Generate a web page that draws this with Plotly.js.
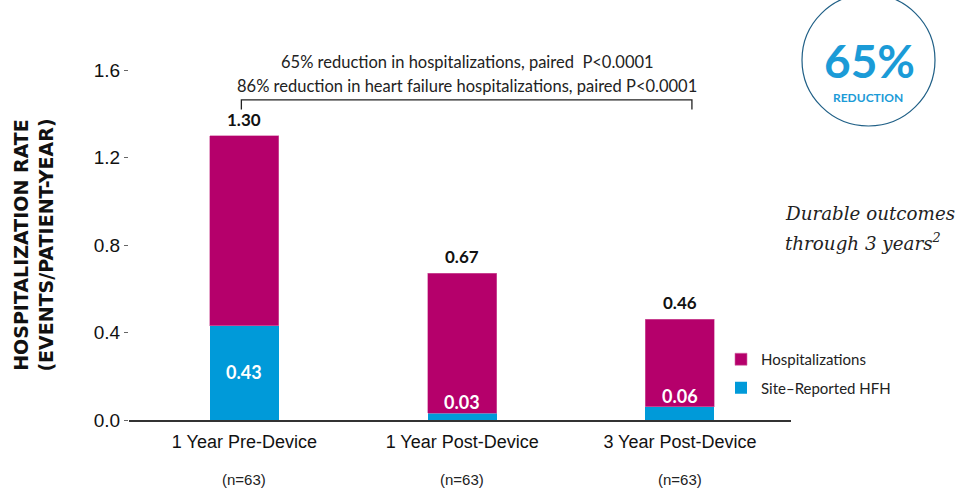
<!DOCTYPE html>
<html>
<head>
<meta charset="utf-8">
<script src="https://cdn.plot.ly/plotly-3.0.1.min.js"></script>
<style>html,body{margin:0;padding:0;background:#fff;}#chart{width:960px;height:492px;}</style>
</head>
<body>
<div id="chart"></div>
<script>
// ---- data ----
const categories = ["1 Year Pre-Device", "1 Year Post-Device", "3 Year Post-Device"];
const sampleLabels = ["(n=63)", "(n=63)", "(n=63)"];
const totalHospitalizations = [1.30, 0.67, 0.46];
const siteReportedHFH = [0.43, 0.03, 0.06];
const yTickVals = [0, 0.4, 0.8, 1.2, 1.6];
const yTickText = ["0.0", "0.4", "0.8", "1.2", "1.6"];
const seriesNames = ["Hospitalizations", "Site\u2013Reported HFH"];
const pvalueLines = [
  "65% reduction in hospitalizations, paired  P&lt;0.0001",
  "86% reduction in heart failure hospitalizations, paired P&lt;0.0001"
];
const noteLines = ["Durable outcomes", "through 3 years<sup>2</sup>"];

const purple = "#B5006B";
const blue = "#009AD9";
const barWidth = 0.317;

const otherHosp = totalHospitalizations.map((t, i) => +(t - siteReportedHFH[i]).toFixed(2));

// pixel helpers for paper-positioned decorations
const PL = 129, PR = 791, PT = 70, PB = 420;
const px = v => (v - PL) / (PR - PL);
const py = v => (PB - v) / (PB - PT);

const traces = [
  {
    type: "bar", x: categories, y: siteReportedHFH, name: seriesNames[1], legendgroup: "b", legendrank: 2,
    marker: {color: blue}, width: barWidth, hoverinfo: "none"
  },
  {
    type: "bar", x: categories, y: otherHosp, name: seriesNames[0], legendgroup: "a", legendrank: 1,
    marker: {color: purple, line: {color: "#d46aa6", width: 0.6}}, width: barWidth, hoverinfo: "none"
  }
];

const annotations = [];
categories.forEach((c, i) => {
  annotations.push({
    x: c, y: totalHospitalizations[i], xref: "x", yref: "y", yanchor: "bottom", yshift: 4,
    text: "<b>" + totalHospitalizations[i].toFixed(2) + "</b>", showarrow: false,
    font: {family: "Lato, sans-serif", size: 17, color: "#111"}
  });
  const big = siteReportedHFH[i] > 0.2;
  annotations.push({
    x: c, y: big ? siteReportedHFH[i] / 2 : siteReportedHFH[i],
    xref: "x", yref: "y", yanchor: big ? "middle" : "bottom", yshift: big ? 1 : -2,
    text: "<b>" + siteReportedHFH[i].toFixed(2) + "</b>", showarrow: false,
    font: {family: "Lato, sans-serif", size: 18, color: "#fff"}
  });
  annotations.push({
    x: c, y: py(479), xref: "x", yref: "paper", yanchor: "middle",
    text: sampleLabels[i], showarrow: false,
    font: {family: "Liberation Sans, Arial, sans-serif", size: 15, color: "#222"}
  });
});
pvalueLines.forEach((t, i) => {
  annotations.push({
    x: px(467), y: py(62 + 24 * i), xref: "paper", yref: "paper", xanchor: "center", yanchor: "middle",
    text: t, showarrow: false,
    font: {family: "Lato, sans-serif", size: 16.5, color: "#222"}
  });
});
annotations.push({
  x: px(869), y: py(61), xref: "paper", yref: "paper",
  xanchor: "center", yanchor: "middle", showarrow: false,
  text: "<b>65%</b>", font: {family: "Lato, sans-serif", size: 46, color: "#1B9BD7"}
});
annotations.push({
  x: px(868), y: py(97), xref: "paper", yref: "paper",
  xanchor: "center", yanchor: "middle", showarrow: false,
  text: "<b>REDUCTION</b>", font: {family: "Lato, sans-serif", size: 12, color: "#1B9BD7"}
});
noteLines.forEach((t, i) => {
  annotations.push({
    x: px(783), y: py(213 + 29 * i), xref: "paper", yref: "paper",
    xanchor: "left", yanchor: "middle", showarrow: false, align: "left",
    text: "<i>" + t + "</i>",
    font: {family: "DejaVu Serif, serif", size: 18.3, color: "#222"}
  });
});

const layout = {
  width: 960, height: 492,
  margin: {l: PL, r: 960 - PR, t: PT, b: 492 - PB},
  paper_bgcolor: "#fff", plot_bgcolor: "#fff",
  barmode: "stack",
  showlegend: true,
  legend: {
    x: px(721), y: py(343), xanchor: "left", yanchor: "top",
    traceorder: "grouped", tracegroupgap: 6,
    font: {family: "Lato, sans-serif", size: 15, color: "#222"},
    bgcolor: "rgba(0,0,0,0)"
  },
  xaxis: {
    type: "category", range: [-0.53, 2.51],
    showline: true, linecolor: "#333", linewidth: 1.5,
    showgrid: false, zeroline: false, ticks: "", ticklabelstandoff: 5,
    tickfont: {family: "Liberation Sans, Arial, sans-serif", size: 18, color: "#111"}
  },
  yaxis: {
    range: [0, 1.6], tickvals: yTickVals, ticktext: yTickText,
    showline: false, showgrid: false, zeroline: false,
    ticks: "outside", ticklen: 4, tickcolor: "#666", tickwidth: 1,
    tickfont: {family: "Liberation Sans, Arial, sans-serif", size: 19, color: "#111"},
    title: {
      text: "<b>HOSPITALIZATION RATE<br>(EVENTS/PATIENT-YEAR)</b>",
      font: {family: "DejaVu Sans, sans-serif", size: 19, color: "#111"},
      standoff: 35
    }
  },
  shapes: [
    {type: "path", xref: "x", yref: "y",
     path: "M -0.014,1.42 L -0.014,1.463 L 2.055,1.463 L 2.055,1.42",
     line: {color: "#222", width: 1.3}},
    {type: "circle", xref: "paper", yref: "paper",
     x0: px(802), x1: px(935), y0: py(126), y1: py(-6),
     line: {color: "#1F5F86", width: 1.2}}
  ],
  annotations: annotations
};

Plotly.newPlot("chart", traces, layout, {staticPlot: true, displayModeBar: false});
</script>
</body>
</html>
